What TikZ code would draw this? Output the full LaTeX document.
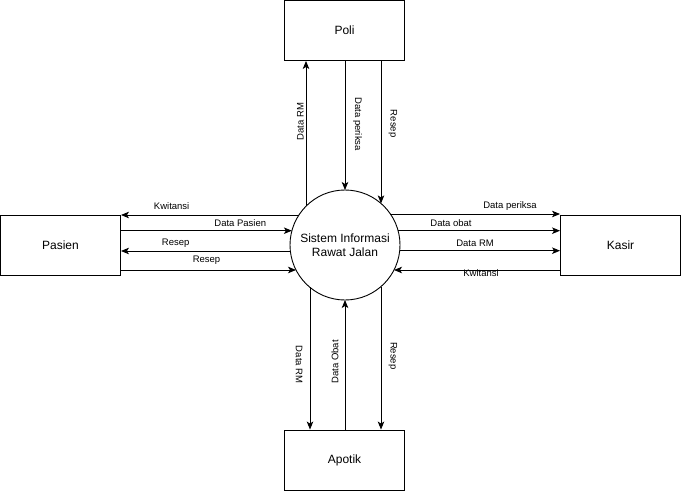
\documentclass[tikz,border=0pt]{standalone}
\usepackage{fontspec}
\setmainfont{Liberation Sans}
\usetikzlibrary{arrows.meta,calc}
\begin{document}
\begin{tikzpicture}[x=1pt,y=-1pt,
  ent/.style={draw,line width=0.9pt,minimum width=120pt,minimum height=60pt,inner sep=0pt,font=\fontsize{12}{14}\selectfont},
  proc/.style={draw,circle,line width=0.9pt,minimum size=110pt,inner sep=0pt,align=center,font=\fontsize{12}{14.5}\selectfont},
  flow/.style={line width=0.9pt,-{Stealth[length=8pt,width=6.5pt,inset=2pt]}},
  lbl/.style={font=\fontsize{9.5}{11}\selectfont,inner sep=0pt}]
\useasboundingbox (0,0) rectangle (682,492);
\node[ent] (poli) at (344.5,30.5) {Poli};
\node[ent] (apotik) at (344.5,460) {Apotik};
\node[ent] (pasien) at (60.5,245) {Pasien};
\node[ent] (kasir) at (620.5,245) {Kasir};
\node[proc] (sis) at (345,245) {Sistem Informasi\\Rawat Jalan};
% points on the circle
\coordinate (cL1) at (298.9,215);
\coordinate (cL2) at (291.9,230.7);
\coordinate (cL3) at (290.3,251);
\coordinate (cL4) at (296,270);
\coordinate (cR1) at (390.4,214);
\coordinate (cR2) at (398,230.7);
\coordinate (cR3) at (399.7,250.7);
\coordinate (cR4) at (394,270);
\coordinate (cT1) at (306,206);
\coordinate (cT2) at (345,190);
\coordinate (cT3) at (381,203.4);
\coordinate (cB1) at (310,287.4);
\coordinate (cB2) at (345,300);
\coordinate (cB3) at (381,286.6);
% left
\draw[flow] (cL1) -- (pasien.east |- cL1) node[lbl,pos=0.715,yshift=9.3pt] (l1) {Kwitansi};
\draw[flow] (pasien.east |- cL2) -- (cL2) node[lbl,pos=0.698,yshift=7.7pt] (l2) {Data Pasien};
\draw[flow] (cL3) -- (pasien.east |- cL3) node[lbl,pos=0.677,yshift=8pt] (l3) {Resep};
\draw[flow] (pasien.east |- cL4) -- (cL4) node[lbl,pos=0.489,yshift=9.3pt] (l4) {Resep};
% right
\draw[flow] (cR1) -- (kasir.west |- cR1) node[lbl,pos=0.705,yshift=8.3pt] (r1) {Data periksa};
\draw[flow] (cR2) -- (kasir.west |- cR2) node[lbl,pos=0.327,yshift=7.7pt] (r2) {Data obat};
\draw[flow] (cR3) -- (kasir.west |- cR3) node[lbl,pos=0.47,yshift=7.7pt] (r3) {Data RM};
\draw[flow] (kasir.west |- cR4) -- (cR4) node[lbl,pos=0.476,yshift=-3pt] (r4) {Kwitansi};
% top
\draw[flow] (cT1) -- (cT1 |- poli.south) node[lbl,pos=0.582,xshift=-5.5pt,rotate=90] (t1) {Data RM};
\draw[flow] (cT2 |- poli.south) -- (cT2) node[lbl,pos=0.49,xshift=12.5pt,rotate=-90] (t2) {Data periksa};
\draw[flow] (cT3 |- poli.south) -- (cT3) node[lbl,pos=0.44,xshift=12pt,rotate=-90] (t3) {Resep};
% bottom
\draw[flow] (cB1) -- (cB1 |- apotik.north) node[lbl,pos=0.544,xshift=-11pt,rotate=-90] (b1) {Data RM};
\draw[flow] (cB2 |- apotik.north) -- (cB2) node[lbl,pos=0.523,xshift=-10pt,rotate=90] (b2) {Data Obat};
\draw[flow] (cB3) -- (cB3 |- apotik.north) node[lbl,pos=0.484,xshift=12pt,rotate=-90] (b3) {Resep};
\end{tikzpicture}
\end{document}
